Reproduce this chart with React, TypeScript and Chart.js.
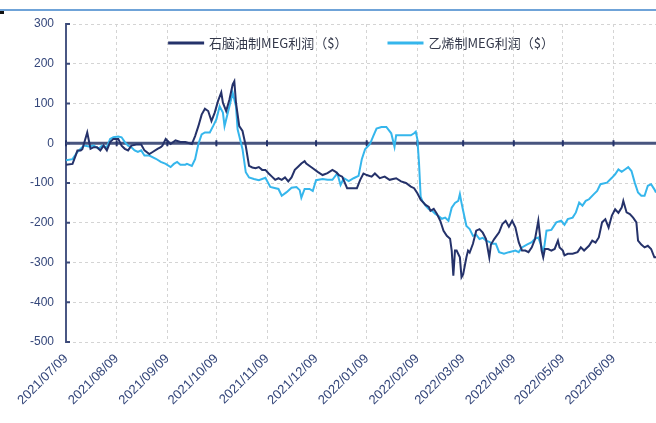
import React, { useEffect, useRef } from 'react';
import { Chart, registerables } from 'chart.js';

Chart.register(...registerables);

// x positions are days since 2021/07/09
const tickDays = [0, 31, 62, 92, 123, 153, 184, 215, 243, 274, 304, 335];
const tickLabels = [
  '2021/07/09', '2021/08/09', '2021/09/09', '2021/10/09', '2021/11/09', '2021/12/09',
  '2022/01/09', '2022/02/09', '2022/03/09', '2022/04/09', '2022/05/09', '2022/06/09',
];
const yTicks = [300, 200, 100, 0, -100, -200, -300, -400, -500];

const seriesNames = ['石脑油制MEG利润（$）', '乙烯制MEG利润（$）'];
const seriesColors = ['#25326a', '#35b6ec'];

const naphthaDays = [
  0, 4, 6, 7, 9, 10, 13, 15, 17, 19, 21, 23, 25, 27, 29, 32, 34, 36, 38, 40,
  43, 46, 48, 51, 53, 56, 58, 59, 61, 64, 67, 70, 73, 77, 79, 81, 83, 85, 87, 89,
  91, 93, 95, 96, 98, 100, 102, 103, 104, 106, 108, 110, 112, 114, 116, 118, 120, 122, 124, 126,
  128, 130, 132, 134, 136, 138, 140, 142, 144, 146, 147, 151, 154, 157, 160, 163, 165, 167, 169, 172,
  175, 178, 180, 182, 184, 187, 189, 192, 195, 198, 202, 205, 208, 211, 213, 215, 217, 220, 222, 223,
  225, 227, 229, 231, 233, 235, 236, 237, 238, 239, 241, 242, 243, 245, 246, 247, 249, 251, 253, 255,
  257, 259, 260, 262, 265, 267, 269, 271, 273, 275, 277, 279, 281, 283, 285, 287, 289, 291, 292, 293,
  295, 297, 299, 301, 302, 304, 305, 307, 310, 313, 315, 317, 320, 322, 324, 326, 328, 330, 332, 334,
  336, 338, 340, 341, 343, 345, 347, 349, 350, 352, 354, 356, 358, 360, 361,
];
const naphthaMEG = [
  -54, -52, -30, -18, -18, -15, 27, -14, -10, -10, -18, -6, -18, 3, 11, 11, -6, -14, -18, -6,
  -3, -3, -18, -27, -22, -14, -10, -6, 11, -2, 7, 3, 3, -2, 18, 43, 72, 87, 81, 56,
  77, 106, 128, 102, 81, 110, 148, 156, 102, 43, 31, -7, -57, -61, -63, -60, -67, -67, -76, -84,
  -92, -88, -92, -86, -96, -86, -67, -59, -51, -45, -51, -63, -72, -80, -75, -67, -72, -80, -84, -113,
  -113, -113, -92, -76, -80, -84, -76, -88, -84, -92, -88, -96, -100, -109, -113, -126, -142, -155, -160, -170,
  -165, -178, -195, -220, -233, -240, -270, -333, -270, -270, -287, -337, -330, -287, -270, -275, -253, -220, -216, -225,
  -241, -287, -255, -241, -224, -203, -195, -210, -195, -212, -249, -270, -270, -274, -262, -241, -195, -270, -287, -266,
  -266, -270, -266, -245, -262, -270, -282, -278, -278, -274, -262, -270, -258, -245, -250, -237, -199, -191, -212, -182,
  -166, -175, -162, -145, -174, -178, -187, -199, -245, -255, -262, -258, -266, -287, -287,
];

const ethyleneDays = [
  0, 4, 7, 9, 11, 14, 17, 20, 22, 25, 27, 29, 32, 34, 36, 38, 40, 42, 44, 46,
  48, 51, 55, 58, 61, 64, 66, 68, 70, 73, 74, 77, 79, 81, 83, 85, 88, 90, 92, 94,
  96, 97, 98, 100, 102, 104, 105, 107, 108, 110, 112, 115, 118, 122, 125, 127, 130, 132, 135, 138,
  141, 143, 144, 146, 149, 151, 153, 157, 160, 163, 166, 168, 170, 173, 176, 179, 181, 183, 186, 188,
  190, 193, 196, 199, 201, 202, 207, 211, 213, 214, 215, 216, 217, 218, 220, 222, 224, 226, 228, 230,
  232, 234, 236, 238, 240, 241, 242, 243, 245, 247, 249, 251, 253, 255, 257, 259, 261, 263, 265, 268,
  271, 275, 277, 279, 282, 285, 287, 289, 291, 292, 294, 297, 300, 303, 305, 307, 310, 312, 314, 316,
  318, 320, 323, 325, 327, 331, 334, 336, 338, 340, 342, 344, 346, 348, 350, 352, 354, 356, 358, 360,
  361,
];
const ethyleneMEG = [
  -43, -40, -22, -14, -6, -8, -6, -14, -6, -10, 11, 15, 17, 15, 3, -6, -10, -18, -22, -18,
  -31, -31, -39, -47, -52, -60, -52, -47, -54, -54, -52, -57, -40, -2, 22, 27, 27, 43, 60, 93,
  77, 43, 60, 93, 127, 93, 35, 2, -15, -73, -86, -90, -93, -87, -110, -112, -115, -132, -123, -112,
  -110, -118, -137, -115, -115, -120, -93, -90, -92, -92, -76, -105, -88, -95, -88, -82, -40, -15, -2, 18,
  37, 41, 41, 25, -9, 20, 20, 20, 25, 29, 10, -50, -134, -145, -157, -166, -170, -178, -183, -190,
  -187, -195, -162, -150, -145, -128, -150, -170, -208, -216, -233, -230, -241, -238, -245, -248, -253, -253, -274, -278,
  -274, -270, -274, -262, -255, -249, -240, -237, -260, -279, -220, -218, -199, -195, -205, -191, -187, -174, -149, -157,
  -145, -141, -128, -120, -103, -99, -87, -78, -66, -72, -66, -60, -70, -99, -124, -132, -132, -107, -103, -116,
  -124,
];

const decorPlugin = {
  id: 'decor',
  beforeDatasetsDraw(chart: any) {
    const { ctx, chartArea, scales } = chart;
    const x = scales.x;
    const y = scales.y;
    const y0 = y.getPixelForValue(0);
    ctx.save();
    ctx.strokeStyle = '#48557f';
    ctx.lineWidth = 3;
    ctx.beginPath();
    ctx.moveTo(chartArea.left, y0);
    ctx.lineTo(chartArea.right, y0);
    ctx.stroke();
    ctx.strokeStyle = '#25326a';
    ctx.lineWidth = 2;
    tickDays.forEach((d) => {
      const px = x.getPixelForValue(d);
      ctx.beginPath();
      ctx.moveTo(px, y0 - 3);
      ctx.lineTo(px, y0 + 3);
      ctx.stroke();
    });
    ctx.strokeStyle = '#3c4a78';
    ctx.lineWidth = 2;
    yTicks.forEach((v) => {
      const py = y.getPixelForValue(v);
      ctx.beginPath();
      ctx.moveTo(chartArea.left, py);
      ctx.lineTo(chartArea.left + 4, py);
      ctx.stroke();
    });
    ctx.restore();
  },
  afterDraw(chart: any) {
    const { ctx, chartArea } = chart;
    ctx.save();
    ctx.font = '13px "Noto Sans CJK SC", "Liberation Sans", sans-serif';
    const lineW = 36;
    const gap = 5;
    const itemGap = 40;
    const widths = seriesNames.map((n) => ctx.measureText(n).width);
    let total = 0;
    widths.forEach((w, i) => {
      total += lineW + gap + w + (i > 0 ? itemGap : 0);
    });
    let xPos = (chartArea.left + chartArea.right) / 2 - total / 2;
    const yPos = 43;
    seriesNames.forEach((n, i) => {
      ctx.fillStyle = seriesColors[i];
      ctx.fillRect(xPos, yPos - 1.5, lineW, 3);
      ctx.fillStyle = '#33384a';
      ctx.textBaseline = 'middle';
      ctx.textAlign = 'left';
      ctx.fillText(n, xPos + lineW + gap, yPos);
      xPos += lineW + gap + widths[i] + itemGap;
    });
    ctx.restore();
  },
};

export default function App() {
  const canvasRef = useRef<HTMLCanvasElement | null>(null);

  useEffect(() => {
    if (!canvasRef.current) return;
    const toPoints = (days: number[], vals: number[]) => days.map((d, i) => ({ x: d, y: vals[i] }));
    const chart = new Chart(canvasRef.current, {
      type: 'line',
      data: {
        datasets: [
          {
            label: seriesNames[0],
            data: toPoints(naphthaDays, naphthaMEG),
            borderColor: seriesColors[0],
            backgroundColor: seriesColors[0],
            borderWidth: 2,
            pointRadius: 0,
            tension: 0,
          },
          {
            label: seriesNames[1],
            data: toPoints(ethyleneDays, ethyleneMEG),
            borderColor: seriesColors[1],
            backgroundColor: seriesColors[1],
            borderWidth: 2,
            pointRadius: 0,
            tension: 0,
          },
        ],
      },
      options: {
        animation: false,
        responsive: false,
        maintainAspectRatio: false,
        layout: { padding: { top: 24, left: 0, right: 0, bottom: 0 } },
        plugins: {
          legend: { display: false },
          tooltip: { enabled: false },
        },
        scales: {
          x: {
            type: 'linear',
            min: 0,
            max: 361,
            afterBuildTicks: (axis: any) => {
              axis.ticks = tickDays.map((v) => ({ value: v }));
            },
            afterFit: (scale: any) => {
              scale.height = 81;
            },
            ticks: {
              autoSkip: false,
              minRotation: 45,
              maxRotation: 45,
              padding: 9,
              color: '#34467a',
              font: { family: '"Liberation Sans", Arial, sans-serif', size: 13 },
              callback: (_v: any, i: number) => tickLabels[i],
            },
            grid: { color: '#d4d4d4', lineWidth: 1, drawTicks: false },
            border: { display: false, dash: [3, 3] },
          },
          y: {
            min: -500,
            max: 300,
            afterBuildTicks: (axis: any) => {
              axis.ticks = yTicks.map((v) => ({ value: v }));
            },
            afterFit: (scale: any) => {
              scale.width = 66;
            },
            ticks: {
              padding: 12,
              color: '#34467a',
              font: { family: '"Liberation Sans", Arial, sans-serif', size: 12 },
            },
            grid: { color: '#d4d4d4', lineWidth: 1, drawTicks: false },
            border: { display: true, color: '#4a5783', width: 2, dash: [3, 3] },
          },
        },
      },
      plugins: [decorPlugin],
    });
    return () => chart.destroy();
  }, []);

  return (
    <div style={{ position: 'absolute', left: 0, top: 0, width: 656, height: 423, background: '#fff' }}>
      <div style={{ position: 'absolute', left: 0, top: 9, width: 656, height: 2, background: '#6fa3d8' }} />
      <div style={{ position: 'absolute', left: 0, top: 11, width: 4, height: 3, background: '#111' }} />
      <canvas ref={canvasRef} width={656} height={423} style={{ display: 'block', width: 656, height: 423 }} />
    </div>
  );
}
